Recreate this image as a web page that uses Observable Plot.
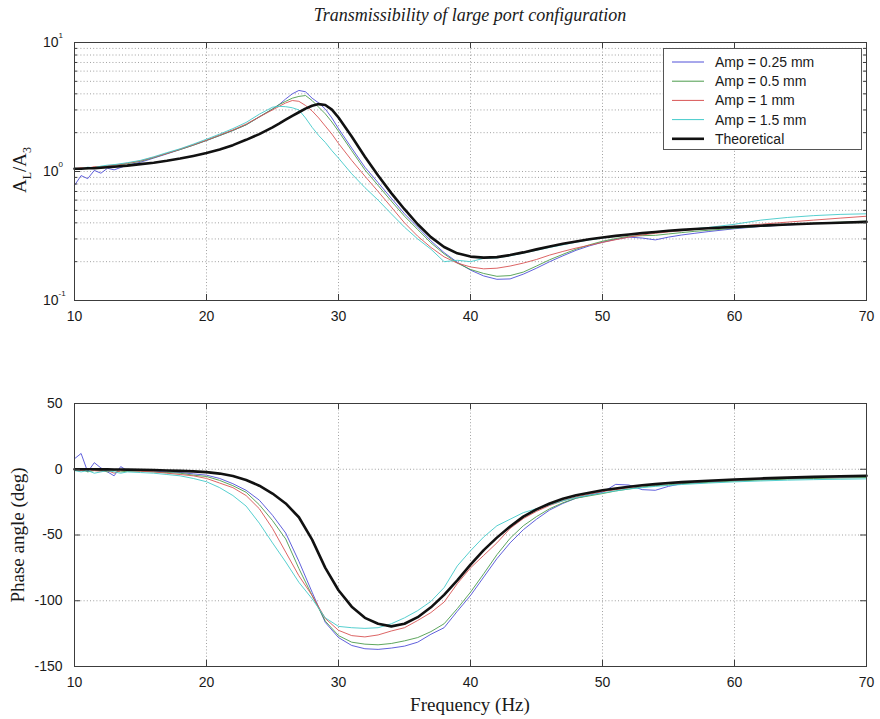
<!DOCTYPE html>
<html>
<head>
<meta charset="utf-8">
<script src="https://cdn.jsdelivr.net/npm/d3@7"></script>
<script src="https://cdn.jsdelivr.net/npm/@observablehq/plot@0.6"></script>
<style>
  body { margin: 0; background: #fff; }
  #wrap { position: relative; width: 880px; height: 719px; overflow: hidden; background: #fff; }
  .lbl { position: absolute; white-space: nowrap; color: #1a1a1a; }
</style>
</head>
<body>
<div id="wrap"></div>
<script>
// ---------------- DATA ----------------
const titleText = "Transmissibility of large port configuration";
const xLabelText = "Frequency (Hz)";
const phaseLabelText = "Phase angle (deg)";

const seriesNames  = ["Amp = 0.25 mm", "Amp = 0.5 mm", "Amp = 1 mm", "Amp = 1.5 mm", "Theoretical"];
const seriesColors = ["#5050d8", "#4c9c4c", "#d85454", "#44caca", "#111111"];
const seriesWidths = [1, 1, 1, 1, 2.6];

const xTicks = [10, 20, 30, 40, 50, 60, 70];
const topYMajor = [0.1, 1, 10];
const topYExp = ["-1", "0", "1"];
const topYMinor = [0.2, 0.3, 0.4, 0.5, 0.6, 0.7, 0.8, 0.9, 2, 3, 4, 5, 6, 7, 8, 9];
const botYTicks = [-150, -100, -50, 0, 50];

// Transmissibility (A_L/A_3)
const topFreq = [10,10.5,11,11.5,12,12.5,13,
  14,15,16,17,18,19,20,21,22,23,24,25,
  25.5,26,26.5,27,27.5,28,28.5,29,29.5,
  30,31,32,33,34,35,36,37,38,39,40,41,42,43,44,45,46,47,48,49,50,51,52,53,54,55,56,57,58,
  60,62,64,66,68,70];
const topAmp025 = [0.78,0.93,0.88,1.02,0.97,1.06,1.03,
  1.12,1.18,1.27,1.37,1.48,1.60,1.74,1.90,2.08,2.30,2.65,3.05,
  3.30,3.65,4.00,4.25,4.15,3.70,3.40,3.05,2.60,
  2.15,1.52,1.08,0.82,0.62,0.47,0.37,0.29,0.235,0.198,0.172,0.155,0.146,0.147,0.160,0.178,0.200,0.222,0.245,0.265,0.283,0.298,0.310,0.305,0.295,0.310,0.322,0.332,0.342,
  0.360,0.375,0.385,0.395,0.402,0.410];
const topAmp05 = [1.04,1.06,1.05,1.08,1.09,1.10,1.12,
  1.15,1.20,1.28,1.38,1.48,1.60,1.74,1.90,2.08,2.30,2.65,3.05,
  3.30,3.50,3.70,3.82,3.88,3.55,3.15,2.80,2.42,
  2.05,1.45,1.03,0.78,0.59,0.45,0.355,0.280,0.230,0.195,0.174,0.162,0.154,0.156,0.166,0.185,0.207,0.228,0.250,0.270,0.288,0.302,0.315,0.318,0.320,0.328,0.336,0.344,0.350,
  0.363,0.376,0.388,0.398,0.405,0.412];
const topAmp1 = [1.05,1.07,1.06,1.09,1.08,1.11,1.12,
  1.16,1.21,1.29,1.38,1.49,1.61,1.75,1.92,2.10,2.33,2.65,3.00,
  3.20,3.40,3.55,3.50,3.25,2.95,2.60,2.25,1.95,
  1.65,1.22,0.92,0.70,0.53,0.40,0.315,0.258,0.218,0.195,0.182,0.176,0.178,0.185,0.195,0.208,0.225,0.240,0.255,0.268,0.282,0.296,0.310,0.322,0.332,0.340,0.348,0.355,0.362,
  0.375,0.390,0.405,0.420,0.435,0.450];
const topAmp15 = [1.06,1.05,1.08,1.07,1.10,1.12,1.13,
  1.17,1.22,1.30,1.40,1.50,1.63,1.78,1.95,2.15,2.40,2.78,3.15,
  3.20,3.18,3.12,3.00,2.60,2.20,1.90,1.68,1.45,
  1.27,0.96,0.75,0.60,0.47,0.37,0.30,0.25,0.20,0.205,0.200,0.212,0.214,0.222,0.233,0.245,0.258,0.270,0.283,0.295,0.305,0.315,0.325,0.333,0.340,0.347,0.353,0.360,0.368,
  0.390,0.420,0.440,0.455,0.465,0.470];
const topTheory = [1.05,1.05,1.06,1.06,1.07,1.08,1.09,
  1.11,1.14,1.17,1.21,1.26,1.32,1.39,1.48,1.60,1.76,1.95,2.20,
  2.35,2.52,2.70,2.88,3.07,3.23,3.33,3.28,3.02,
  2.62,1.87,1.30,0.93,0.68,0.51,0.39,0.31,0.26,0.232,0.219,0.215,0.217,0.225,0.236,0.249,0.262,0.275,0.287,0.298,0.308,0.317,0.325,0.333,0.340,0.347,0.353,0.358,0.363,
  0.372,0.380,0.388,0.395,0.401,0.407];

// Phase angle (deg)
const botFreq = [10,10.5,11,11.5,12,12.5,13,13.5,14,
  15,16,17,18,19,20,21,22,23,24,25,26,27,28,29,30,31,32,33,34,35,36,37,38,39,40,41,42,43,44,45,46,47,48,
  50,51,52,53,54,55,56,
  58,60,62,64,66,68,70];
const botAmp025 = [8,12,-2,5,1,-2,-5,2,-1,
  -1,-1.5,-2,-2.5,-3.5,-4.5,-7,-11,-16,-23.5,-35,-48.5,-70,-93.5,-116.5,-128,-134,-136.5,-137,-136,-134.5,-131.5,-125.5,-120.5,-108,-96,-82,-68,-56,-46,-38,-31,-26,-22,
  -17.5,-11.5,-12,-15.5,-16,-13,-11,
  -9.5,-8.5,-7.7,-7,-6.6,-6.3,-6];
const botAmp05 = [-1,0,-2,-1,-1,-2,-1,-2,-1.5,
  -1.5,-2,-2.5,-3,-4.5,-5.5,-8.5,-12.5,-17.5,-27,-39,-53,-75.5,-96,-115.5,-126.5,-131.5,-133,-133.5,-132.5,-130.5,-128,-123.5,-117.5,-106,-93.5,-79.5,-65,-52.5,-43,-36,-30,-25.5,-22,
  -18.5,-16.5,-15,-13.5,-12.5,-11.8,-11,
  -10,-9,-8.2,-7.5,-7,-6.6,-6.3];
const botAmp1 = [0,-1,0,-1,-1.5,-1,-3,-1,-1,
  -1.5,-2,-3,-4,-5,-7,-10.5,-14,-20,-30,-45,-63,-81,-96,-113.5,-122.5,-126.5,-127.5,-126,-123,-120.5,-115,-109,-101,-87,-75,-65.5,-56,-45,-37.5,-32,-27.5,-24,-21,
  -17,-15.5,-14,-12.5,-11.5,-10.8,-10.2,
  -9,-8.2,-7.3,-6.6,-6,-5.7,-5.5];
const botAmp15 = [-1,-2,-1,-3,-2,-1,-2,-3,-2,
  -2.5,-3,-4,-5,-7,-9.5,-14,-20,-28,-41,-56,-70.5,-86,-98.5,-113,-119.5,-120.5,-121,-120.5,-117.5,-113,-107.5,-100.5,-90,-73.5,-62,-51.5,-43,-38,-33,-30,-27,-24,-21.5,
  -18,-16.5,-15,-14,-13,-12.3,-11.6,
  -10.5,-9.6,-8.9,-8.3,-7.9,-7.6,-7.3];
const botTheory = [0,0,0,0,-0.1,-0.1,-0.2,-0.2,-0.3,
  -0.4,-0.6,-0.9,-1.2,-1.6,-2.2,-3.3,-5.2,-8.2,-12.5,-18.5,-26,-36.5,-53.5,-75,-92,-104.5,-113,-117.5,-119.5,-117.5,-112.5,-105,-95.5,-84.5,-72.5,-61.5,-52,-43.5,-36,-30.5,-26,-22.5,-19.8,
  -16,-14.6,-13.3,-12.2,-11.3,-10.5,-9.8,
  -8.7,-7.8,-7.0,-6.4,-5.8,-5.3,-4.9];

const topSeries = [topAmp025, topAmp05, topAmp1, topAmp15, topTheory];
const botSeries = [botAmp025, botAmp05, botAmp1, botAmp15, botTheory];

// ---------------- DRAW ----------------
const rows = (freq, vals) => freq.map((f, i) => ({f, v: vals[i]}));

const W = 880, ML = 74, MR = 14, FW = W - ML - MR;
const axisColor = "#3c3c3c";
const grid = {stroke: "#8a8a8a", strokeWidth: 0.8, strokeDasharray: "1,2.2"};
const tickFont = "'Liberation Sans', Arial, Helvetica, sans-serif";
const gridX = xTicks.slice(1, -1);

function lineMarks(freq, series) {
  return series.map((vals, i) => Plot.line(rows(freq, vals), {
    x: "f", y: "v", stroke: seriesColors[i], strokeWidth: seriesWidths[i],
    strokeOpacity: i === 4 ? 1 : 0.9
  }));
}

// Top panel
const H1 = 340, MT1 = 42, MB1 = 40, FH1 = H1 - MT1 - MB1;
const topPlot = Plot.plot({
  width: W, height: H1, marginLeft: ML, marginRight: MR, marginTop: MT1, marginBottom: MB1,
  style: {background: "transparent", fontFamily: tickFont, fontSize: "13px", color: "#1a1a1a", overflow: "visible"},
  x: {domain: [10, 70]},
  y: {type: "log", domain: [0.1, 10], axis: null},
  marks: [
    Plot.ruleX(gridX, grid),
    Plot.ruleY(topYMinor.concat([1]), grid),
    ...lineMarks(topFreq, topSeries),
    Plot.frame({stroke: axisColor}),
    Plot.ruleX(xTicks, {stroke: axisColor, insetTop: FH1 - 6}),
    Plot.ruleX(xTicks, {stroke: axisColor, insetBottom: FH1 - 6}),
    Plot.ruleY(topYMajor, {stroke: axisColor, insetRight: FW - 6}),
    Plot.ruleY(topYMajor, {stroke: axisColor, insetLeft: FW - 6}),
    Plot.ruleY(topYMinor, {stroke: axisColor, insetRight: FW - 3}),
    Plot.ruleY(topYMinor, {stroke: axisColor, insetLeft: FW - 3}),
    Plot.axisX(xTicks, {tickSize: 0, tickPadding: 11, fontSize: 14, label: null, tickFormat: d => String(d)}),
    Plot.text(topYMajor, {y: d => d, frameAnchor: "left", text: () => "10", textAnchor: "end", dx: -16, fontSize: 14}),
    Plot.text(topYMajor, {y: d => d, frameAnchor: "left", text: (d, i) => topYExp[i], textAnchor: "start", dx: -16, dy: -7, fontSize: 8})
  ]
});

// Bottom panel
const H2 = 359, MT2 = 43, MB2 = 53, FH2 = H2 - MT2 - MB2;
const botPlot = Plot.plot({
  width: W, height: H2, marginLeft: ML, marginRight: MR, marginTop: MT2, marginBottom: MB2,
  style: {background: "transparent", fontFamily: tickFont, fontSize: "13px", color: "#1a1a1a", overflow: "visible"},
  x: {domain: [10, 70]},
  y: {domain: [-150, 50], axis: null},
  marks: [
    Plot.ruleX(gridX, grid),
    Plot.ruleY(botYTicks.slice(1, -1), grid),
    ...lineMarks(botFreq, botSeries),
    Plot.frame({stroke: axisColor}),
    Plot.ruleX(xTicks, {stroke: axisColor, insetTop: FH2 - 6}),
    Plot.ruleX(xTicks, {stroke: axisColor, insetBottom: FH2 - 6}),
    Plot.ruleY(botYTicks, {stroke: axisColor, insetRight: FW - 6}),
    Plot.ruleY(botYTicks, {stroke: axisColor, insetLeft: FW - 6}),
    Plot.axisX(xTicks, {tickSize: 0, tickPadding: 11, fontSize: 14, label: null, tickFormat: d => String(d)}),
    Plot.text(botYTicks, {y: d => d, frameAnchor: "left", text: d => String(d), textAnchor: "end", dx: -12, fontSize: 14})
  ]
});

const wrap = document.getElementById("wrap");
topPlot.style.position = "absolute"; topPlot.style.left = "0px"; topPlot.style.top = "0px";
botPlot.style.position = "absolute"; botPlot.style.left = "0px"; botPlot.style.top = "360px";
wrap.appendChild(topPlot);
wrap.appendChild(botPlot);

// Text labels
function addLabel(html, cx, cy, css, rotate) {
  const d = document.createElement("div");
  d.className = "lbl";
  d.innerHTML = html;
  d.style.left = cx + "px";
  d.style.top = cy + "px";
  d.style.transform = "translate(-50%,-50%)" + (rotate ? " rotate(-90deg)" : "");
  Object.assign(d.style, css);
  wrap.appendChild(d);
}
const serif = "'Liberation Serif', 'DejaVu Serif', serif";
addLabel(titleText, 470, 15, {fontFamily: serif, fontStyle: "italic", fontSize: "18px"});
addLabel(xLabelText, 470, 705, {fontFamily: serif, fontSize: "19px"});
addLabel(phaseLabelText, 18, 535, {fontFamily: serif, fontSize: "19px"}, true);
addLabel("A<sub style='font-size:12px'>L</sub>/A<sub style='font-size:12px'>3</sub>", 22, 170, {fontFamily: serif, fontSize: "19px"}, true);

// Legend
const ns = "http://www.w3.org/2000/svg";
const leg = document.createElementNS(ns, "svg");
const LW = 199, LH = 102;
leg.setAttribute("width", LW); leg.setAttribute("height", LH);
leg.style.position = "absolute"; leg.style.left = "663px"; leg.style.top = "48px";
const bg = document.createElementNS(ns, "rect");
bg.setAttribute("x", 0.5); bg.setAttribute("y", 0.5); bg.setAttribute("width", LW - 1); bg.setAttribute("height", LH - 1);
bg.setAttribute("fill", "#fff"); bg.setAttribute("stroke", "#555");
leg.appendChild(bg);
seriesNames.forEach((name, i) => {
  const y = 14 + i * 19.2;
  const ln = document.createElementNS(ns, "line");
  ln.setAttribute("x1", 9); ln.setAttribute("x2", 41); ln.setAttribute("y1", y); ln.setAttribute("y2", y);
  ln.setAttribute("stroke", seriesColors[i]); ln.setAttribute("stroke-width", seriesWidths[i]);
  leg.appendChild(ln);
  const t = document.createElementNS(ns, "text");
  t.setAttribute("x", 52); t.setAttribute("y", y); t.setAttribute("dy", "0.35em");
  t.setAttribute("font-family", tickFont); t.setAttribute("font-size", 14); t.setAttribute("fill", "#1a1a1a");
  t.textContent = name;
  leg.appendChild(t);
});
wrap.appendChild(leg);
</script>
</body>
</html>
